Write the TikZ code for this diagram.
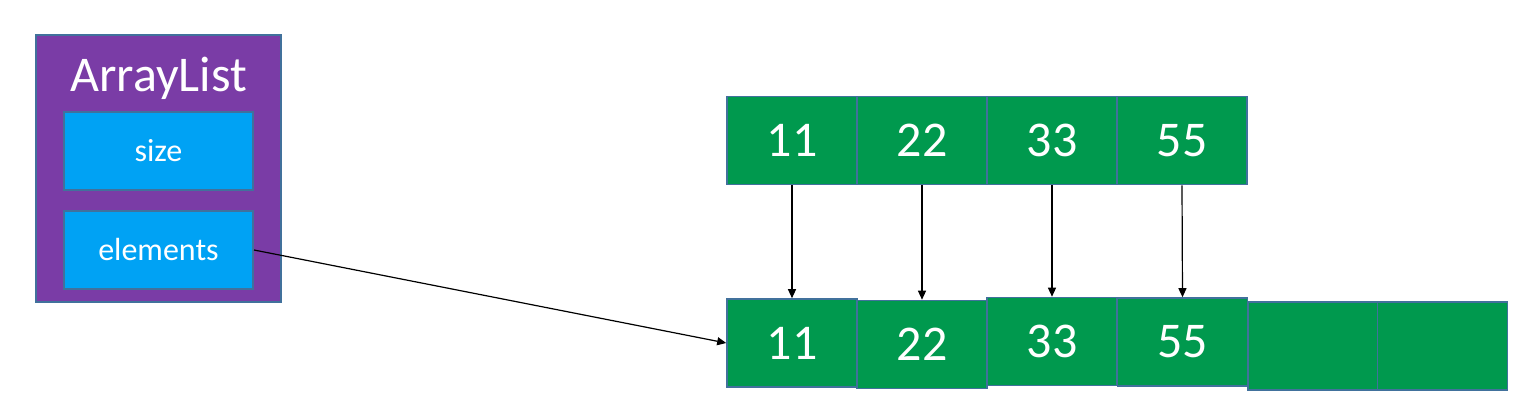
\documentclass[tikz,border=0pt]{standalone}
\usepackage{fontspec}
\setmainfont{Carlito}
\usetikzlibrary{arrows.meta}
\definecolor{purp}{HTML}{7A3CA6}
\definecolor{lblue}{HTML}{00A2F4}
\definecolor{grn}{HTML}{00994E}
\definecolor{edge}{HTML}{41719C}
\tikzset{
  outer/.style={draw=edge, line width=2pt, fill=purp, minimum width=245pt, minimum height=267pt, inner sep=0pt},
  field/.style={draw=edge, line width=2pt, fill=lblue, minimum width=189pt, minimum height=78pt, inner sep=0pt, text=white, font=\fontsize{32}{38}\selectfont},
  cell/.style={draw=edge, line width=1.6pt, fill=grn, minimum width=130pt, minimum height=88pt, inner sep=0pt, text=white, font=\fontsize{50}{58}\selectfont},
  title/.style={text=white, font=\fontsize{50}{58}\selectfont, inner sep=0pt},
  link/.style={draw=black, line width=1.2pt, -{Triangle[length=9pt,width=8pt]}}
}
\begin{document}
\begin{tikzpicture}[x=1pt,y=-1pt]
\useasboundingbox (0,0) rectangle (1532,412);
\node[outer] (al) at (158.5,168.5) {};
\node[title] (alt) at (158.5,78) {ArrayList};
\node[field] (size) at (158.5,150.5) {size};
\node[field] (elem) at (158.5,250) {elements};

\node[cell] (t1) at (792,140.5) {11};
\node[cell] (t2) at (922,140.5) {22};
\node[cell] (t3) at (1052,140.5) {33};
\node[cell] (t4) at (1182,140.5) {55};

\node[cell] (b1) at (792,343) {11};
\node[cell] (b2) at (922,344.5) {22};
\node[cell] (b3) at (1052,341.5) {33};
\node[cell] (b4) at (1182.5,342) {55};
\node[cell] (b5) at (1313,346) {};
\node[cell] (b6) at (1442.5,346) {};

\draw[link] (t1.south) -- (b1.north);
\draw[link] (t2.south) -- (b2.north);
\draw[link] (t3.south) -- (b3.north);
\draw[link] (t4.south) -- (b4.north);
\draw[link] (elem.east) -- (b1.west);
\end{tikzpicture}
\end{document}
